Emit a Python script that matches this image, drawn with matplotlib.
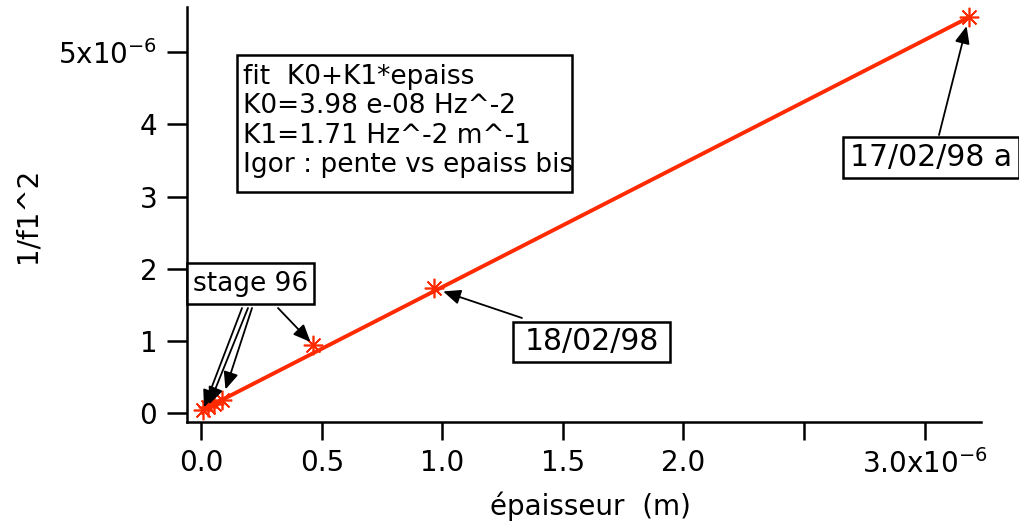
import matplotlib
matplotlib.use("Agg")
import matplotlib.pyplot as plt
from matplotlib.patches import Rectangle
import numpy as np

plt.rcParams['font.family'] = ['DejaVu Sans']
plt.rcParams['mathtext.default'] = 'regular'

# measured samples: thickness (m) and 1/f1^2 (Hz^-2)
epaisseur = np.array([0.007, 0.028, 0.053, 0.086, 0.465, 0.965, 3.184]) * 1e-6
inv_f1_sq = np.array([0.046, 0.087, 0.129, 0.184, 0.946, 1.731, 5.493]) * 1e-6

# linear fit coefficients
K0 = 3.98e-8
K1 = 1.71

x_ticks = np.array([0.0, 0.5, 1.0, 1.5, 2.0, 2.5, 3.0]) * 1e-6
x_tick_labels = ['0.0', '0.5', '1.0', '1.5', '2.0', '', '3.0x10$^{-6}$']
y_ticks = np.array([0, 1, 2, 3, 4, 5]) * 1e-6
y_tick_labels = ['0', '1', '2', '3', '4', '5x10$^{-6}$']

fit_text = ("fit  K0+K1*epaiss\n"
            "K0=3.98 e-08 Hz^-2\n"
            "K1=1.71 Hz^-2 m^-1\n"
            "Igor : pente vs epaiss bis")

# annotation: label, font size, target point indices, box (x0, y0, x1, y1),
# arrow starts in axes fraction, arrow shrink at the point (pt)
annotations = [
    ("stage 96", 19, [0, 1, 3, 4], (0.000, 0.2838, 0.160, 0.382),
     [(0.0693, 0.2742), (0.0768, 0.2742), (0.0819, 0.2742), (0.1146, 0.2742)],
     [2, 2, 8, 3]),
    ("18/02/98", 21.5, [5], (0.4106, 0.144, 0.6083, 0.2404),
     [(0.4219, 0.2501)], [7]),
    ("17/02/98 a", 21.5, [6], (0.8262, 0.5877, 1.0479, 0.6865),
     [(0.9471, 0.6913)], [7]),
]

RED = '#ff2a00'

fig = plt.figure(figsize=(10.2, 5.25), dpi=100)
ax = fig.add_axes([187 / 1020, 1 - 421.7 / 525, 794 / 1020, 414.7 / 525])

xf = np.linspace(epaisseur.min(), epaisseur.max(), 400)
ax.plot(xf, K0 + K1 * xf, color=RED, lw=2.8, zorder=3, solid_capstyle='butt')
ax.plot(epaisseur, inv_f1_sq, ls='none', marker=(8, 2, 0), ms=14, mew=1.2,
        color=RED, zorder=4)

ax.set_xlim(-0.0593e-6, 3.234e-6)
ax.set_ylim(-0.116e-6, 5.627e-6)

for side in ('top', 'right'):
    ax.spines[side].set_visible(False)
for side in ('left', 'bottom'):
    ax.spines[side].set_linewidth(1.8)

ax.set_xticks(x_ticks)
ax.set_xticklabels(x_tick_labels)
ax.set_yticks(y_ticks)
ax.set_yticklabels(y_tick_labels)
ax.tick_params(axis='x', direction='out', length=13, width=1.8, pad=7, labelsize=20)
ax.tick_params(axis='y', direction='out', length=14.4, width=1.8, pad=7, labelsize=20)

ax.set_xlabel("épaisseur  (m)", fontsize=20, va='center')
ax.xaxis.set_label_coords(0.5076, -0.203)
ax.set_ylabel("1/f1^2", fontsize=20, va='center')
ax.yaxis.set_label_coords(-0.201, 0.498)

# fit parameter box
ax.add_patch(Rectangle((0.0626, 0.5546), 0.4845 - 0.0626, 0.8843 - 0.5546,
                       transform=ax.transAxes, fc='white', ec='black', lw=1.8,
                       clip_on=False, zorder=6))
ax.text(0.0700, 0.862, fit_text, transform=ax.transAxes, ha='left', va='top',
        fontsize=19, linespacing=1.16, zorder=7)

for label, fs, idx, (bx0, by0, bx1, by1), starts, shrinks in annotations:
    for i, (sx, sy), s in zip(idx, starts, shrinks):
        ax.annotate('', xy=(epaisseur[i], inv_f1_sq[i]), xycoords='data',
                    xytext=(sx, sy), textcoords='axes fraction',
                    arrowprops=dict(arrowstyle='-|>,head_length=0.7,head_width=0.3',
                                    mutation_scale=15, lw=1.3, color='black',
                                    shrinkA=0, shrinkB=s),
                    annotation_clip=False, zorder=5)
    ax.add_patch(Rectangle((bx0, by0), bx1 - bx0, by1 - by0,
                           transform=ax.transAxes, fc='white', ec='black', lw=1.8,
                           clip_on=False, zorder=6))
    ax.text((bx0 + bx1) / 2, (by0 + by1) / 2, label, transform=ax.transAxes,
            ha='center', va='center', fontsize=fs, zorder=7)

fig.savefig('out.png', dpi=100)
